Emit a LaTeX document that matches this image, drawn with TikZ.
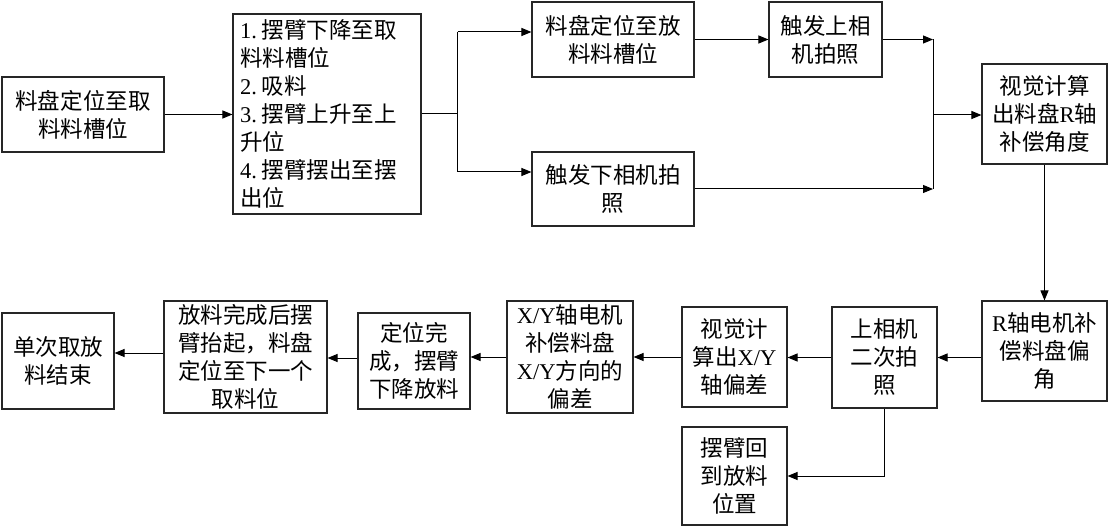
\documentclass[tikz,border=0pt]{standalone}
\usepackage{fontspec}
\setmainfont{Noto Sans CJK SC}
\newfontfamily\lat{Liberation Serif}
\newcommand{\numlab}[1]{{\lat #1.}\kern5pt}
\usetikzlibrary{arrows.meta}
\begin{document}
\begin{tikzpicture}[x=1pt,y=-1pt,
  box/.style={draw=black!85, line width=1.1pt, inner sep=0pt, align=center,
    font=\fontsize{22.5}{28}\selectfont},
  arr/.style={-{Triangle[length=10pt,width=8pt]}, line width=1pt},
  ln/.style={line width=1pt}]
\useasboundingbox (0,0) rectangle (1110,529);

\node[box, minimum width=162, minimum height=75] (A) at (83,114.5) {料盘定位至取\\料料槽位};
\node[box, minimum width=188, minimum height=200, text width=174, align=left] (B) at (327,114)
  {\numlab{1}摆臂下降至取\\料料槽位\\\numlab{2}吸料\\\numlab{3}摆臂上升至上\\升位\\\numlab{4}摆臂摆出至摆\\出位};
\node[box, minimum width=162, minimum height=75] (C1) at (613,39.5) {料盘定位至放\\料料槽位};
\node[box, minimum width=162, minimum height=74] (C2) at (613,189) {触发下相机拍\\照};
\node[box, minimum width=113, minimum height=75] (D) at (825.5,39.5) {触发上相\\机拍照};
\node[box, minimum width=125, minimum height=100] (E) at (1044.5,114) {视觉计算\\出料盘{\lat R}轴\\补偿角度};
\node[box, minimum width=125, minimum height=100] (F) at (1044.5,351) {{\lat R}轴电机补\\偿料盘偏\\角};
\node[box, minimum width=105, minimum height=101] (G) at (884.5,357.5) {上相机\\二次拍\\照};
\node[box, minimum width=105, minimum height=100] (H) at (734.5,357) {视觉计\\算出{\lat X/Y}\\轴偏差};
\node[box, minimum width=105, minimum height=98] (I) at (734.5,476) {摆臂回\\到放料\\位置};
\node[box, minimum width=126, minimum height=112] (J) at (570,357) {{\lat X/Y}轴电机\\补偿料盘\\{\lat X/Y}方向的\\偏差};
\node[box, minimum width=112, minimum height=96] (K) at (414,361) {定位完\\成，摆臂\\下降放料};
\node[box, minimum width=163, minimum height=112] (L) at (245.5,357) {放料完成后摆\\臂抬起，料盘\\定位至下一个\\取料位};
\node[box, minimum width=112, minimum height=96] (M) at (58,361) {单次取放\\料结束};

\coordinate (br) at (457.7,114);
\coordinate (mg) at (933,115);

\draw[arr] (A.east) -- (A.east -| B.west);
\draw[ln] (B.east |- br) -- (br);
\draw[ln] (br |- 0,32) -- (br |- 0,172);
\draw[arr] (br |- 0,32) -- (C1.west |- 0,32);
\draw[arr] (br |- 0,172) -- (C2.west |- 0,172);
\draw[arr] (C1.east) -- (C1.east -| D.west);
\draw[arr] (D.east) -- (D.east -| mg);
\draw[arr] (C2.east) -- (C2.east -| mg);
\draw[ln] (D.east -| mg) -- (C2.east -| mg);
\draw[arr] (mg) -- (mg -| E.west);
\draw[arr] (E.south) -- (F.north);
\draw[arr] (F.west |- G.east) -- (G.east);
\draw[arr] (G.west) -- (G.west -| H.east);
\draw[arr] (G.south) |- (I.east);
\draw[arr] (H.west) -- (H.west -| J.east);
\draw[arr] (J.west) -- (J.west -| K.east);
\draw[arr] (K.west |- 0,358) -- (L.east |- 0,358);
\draw[arr] (L.west |- 0,353) -- (M.east |- 0,353);
\end{tikzpicture}
\end{document}
